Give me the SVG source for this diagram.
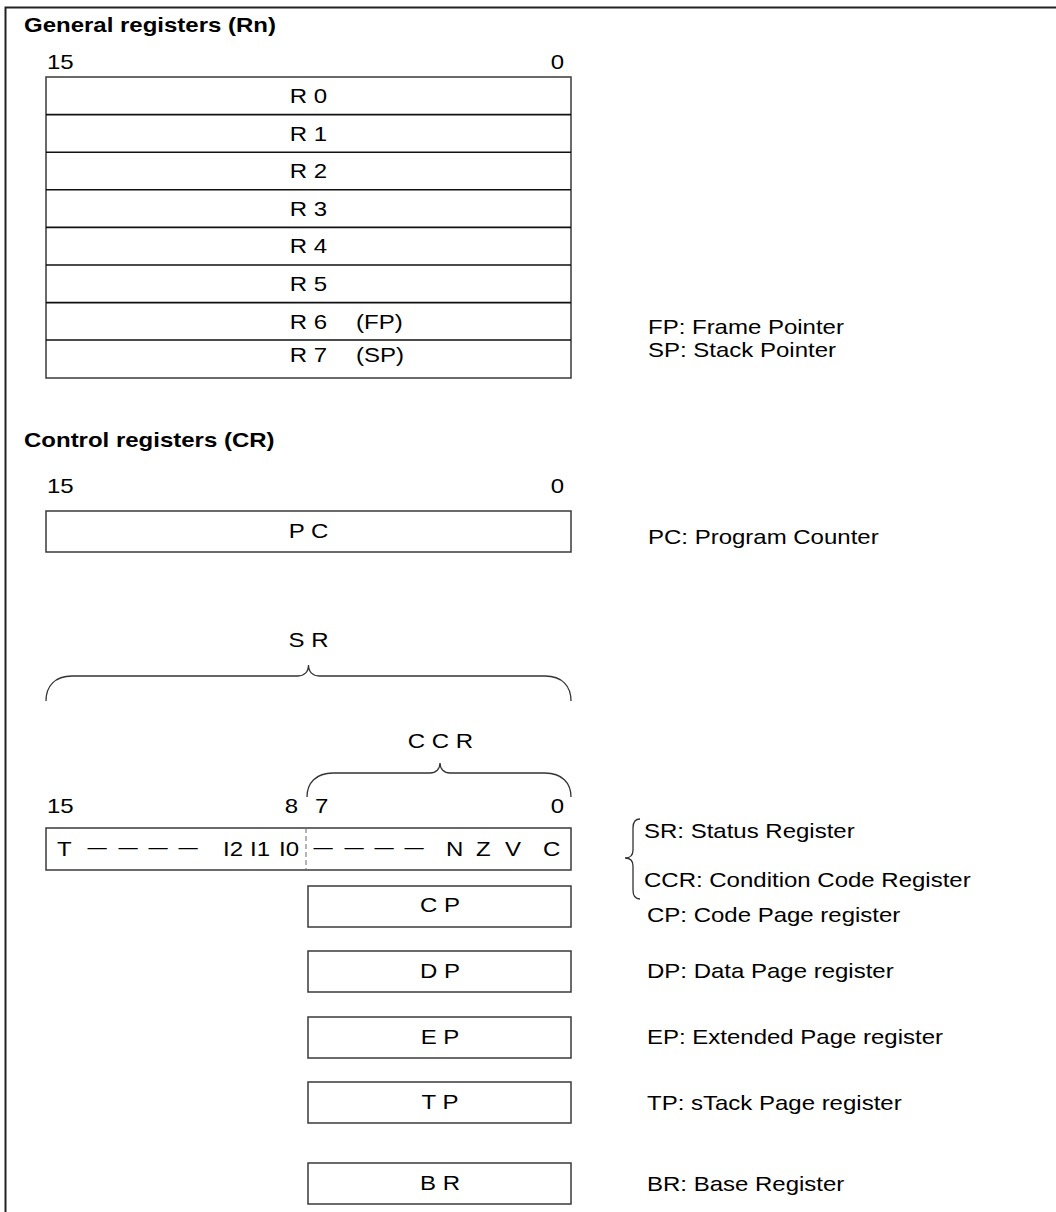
<svg xmlns="http://www.w3.org/2000/svg" width="1056" height="1212" viewBox="0 0 1056 1212">
<style>
text{font-family:"Liberation Sans",Arial,sans-serif;font-size:20px;fill:#000}
.t{font-weight:bold}
.e{text-anchor:end}
.m{text-anchor:middle}
.d{font-size:16px;text-anchor:middle}
.box{fill:#fff;stroke:#3a3a3a;stroke-width:1.5}
.ln{stroke:#111;stroke-width:1.6;fill:none}
.br{fill:none;stroke:#333;stroke-width:1.3}
</style>
<rect width="1056" height="1212" fill="#fff"/>
<path d="M5.5,1212 V7.5 H1056" fill="none" stroke="#222" stroke-width="2"/>

<g id="general">
<text class="t" transform="translate(24,32) scale(1.2,1)">General registers (Rn)</text>
<text transform="translate(47,69) scale(1.2,1)">15</text>
<text class="e" transform="translate(564,69) scale(1.2,1)">0</text>
</g>
<g id="rn-box">
<rect class="box" x="46" y="77" width="525" height="301"/>
<path class="ln" d="M46,114.6 H571 M46,152.2 H571 M46,189.8 H571 M46,227.4 H571 M46,265 H571 M46,302.6 H571 M46,340 H571"/>
<text class="m" transform="translate(308.5,103) scale(1.2,1)">R 0</text>
<text class="m" transform="translate(308.5,140.6) scale(1.2,1)">R 1</text>
<text class="m" transform="translate(308.5,178.2) scale(1.2,1)">R 2</text>
<text class="m" transform="translate(308.5,215.8) scale(1.2,1)">R 3</text>
<text class="m" transform="translate(308.5,253.4) scale(1.2,1)">R 4</text>
<text class="m" transform="translate(308.5,291) scale(1.2,1)">R 5</text>
<text class="m" transform="translate(308.5,328.6) scale(1.2,1)">R 6</text>
<text transform="translate(356,328.6) scale(1.2,1)">(FP)</text>
<text class="m" transform="translate(308.5,362) scale(1.2,1)">R 7</text>
<text transform="translate(356,362) scale(1.2,1)">(SP)</text>
</g>
<g id="rn-legend">
<text transform="translate(648,334) scale(1.2,1)">FP: Frame Pointer</text>
<text transform="translate(648,357) scale(1.2,1)">SP: Stack Pointer</text>
</g>

<g id="control">
<text class="t" transform="translate(24,447) scale(1.2,1)">Control registers (CR)</text>
<text transform="translate(47,493) scale(1.2,1)">15</text>
<text class="e" transform="translate(564,493) scale(1.2,1)">0</text>
</g>
<g id="pc">
<rect class="box" x="46" y="511" width="525" height="41"/>
<text class="m" transform="translate(308.5,538) scale(1.2,1)">P C</text>
<text transform="translate(648,544) scale(1.2,1)">PC: Program Counter</text>
</g>

<g id="sr-brace">
<text class="m" transform="translate(308.5,647) scale(1.2,1)">S R</text>
<path class="br" d="M46,701 C46,686 55,676 72,676 H298 C304,676 308.5,672 308.5,665 C308.5,672 313,676 319,676 H545 C562,676 571,686 571,701"/>
</g>
<g id="ccr-brace">
<text class="m" transform="translate(440.5,748) scale(1.2,1)">C C R</text>
<path class="br" d="M307,797 C307,783 316,773 333,773 H430 C436,773 440,769 440,763 C440,769 444,773 450,773 H545 C562,773 571,783 571,797"/>
</g>

<g id="sr">
<text transform="translate(47,813) scale(1.2,1)">15</text>
<text class="e" transform="translate(298,813) scale(1.2,1)">8</text>
<text transform="translate(315,813) scale(1.2,1)">7</text>
<text class="e" transform="translate(564,813) scale(1.2,1)">0</text>
<rect class="box" x="46" y="828" width="525" height="42"/>
<line x1="306" y1="828" x2="306" y2="870" stroke="#666" stroke-width="1" stroke-dasharray="5,3"/>
<text transform="translate(57,856) scale(1.2,1)">T</text>
<text class="d" transform="translate(97,853) scale(1.2,1)">—</text>
<text class="d" transform="translate(128,853) scale(1.2,1)">—</text>
<text class="d" transform="translate(158,853) scale(1.2,1)">—</text>
<text class="d" transform="translate(188,853) scale(1.2,1)">—</text>
<text transform="translate(223,856) scale(1.2,1)">I2</text>
<text transform="translate(250,856) scale(1.2,1)">I1</text>
<text transform="translate(279,856) scale(1.2,1)">I0</text>
<text class="d" transform="translate(323,853) scale(1.2,1)">—</text>
<text class="d" transform="translate(354,853) scale(1.2,1)">—</text>
<text class="d" transform="translate(384,853) scale(1.2,1)">—</text>
<text class="d" transform="translate(414,853) scale(1.2,1)">—</text>
<text transform="translate(446,856) scale(1.2,1)">N</text>
<text transform="translate(476,856) scale(1.2,1)">Z</text>
<text transform="translate(505,856) scale(1.2,1)">V</text>
<text transform="translate(543,856) scale(1.2,1)">C</text>
</g>
<g id="sr-legend">
<path class="br" d="M640,819 C635,819 633,822 633,828 V850 C633,855 630,858 625,858 C630,858 633,861 633,866 V890 C633,896 635,899 640,899"/>
<text transform="translate(644,838) scale(1.2,1)">SR: Status Register</text>
<text transform="translate(644,887) scale(1.2,1)">CCR: Condition Code Register</text>
</g>

<g id="cp">
<rect class="box" x="308" y="886" width="263" height="41"/>
<text class="m" transform="translate(440,912) scale(1.2,1)">C P</text>
<text transform="translate(647,922) scale(1.2,1)">CP: Code Page register</text>
</g>
<g id="dp">
<rect class="box" x="308" y="951" width="263" height="41"/>
<text class="m" transform="translate(440,978) scale(1.2,1)">D P</text>
<text transform="translate(647,978) scale(1.2,1)">DP: Data Page register</text>
</g>
<g id="ep">
<rect class="box" x="308" y="1017" width="263" height="41"/>
<text class="m" transform="translate(440,1044) scale(1.2,1)">E P</text>
<text transform="translate(647,1044) scale(1.2,1)">EP: Extended Page register</text>
</g>
<g id="tp">
<rect class="box" x="308" y="1082" width="263" height="41"/>
<text class="m" transform="translate(440,1109) scale(1.2,1)">T P</text>
<text transform="translate(647,1110) scale(1.2,1)">TP: sTack Page register</text>
</g>
<g id="br">
<rect class="box" x="308" y="1163" width="263" height="41"/>
<text class="m" transform="translate(440,1190) scale(1.2,1)">B R</text>
<text transform="translate(647,1191) scale(1.2,1)">BR: Base Register</text>
</g>
<g id="connectors"></g>
</svg>
